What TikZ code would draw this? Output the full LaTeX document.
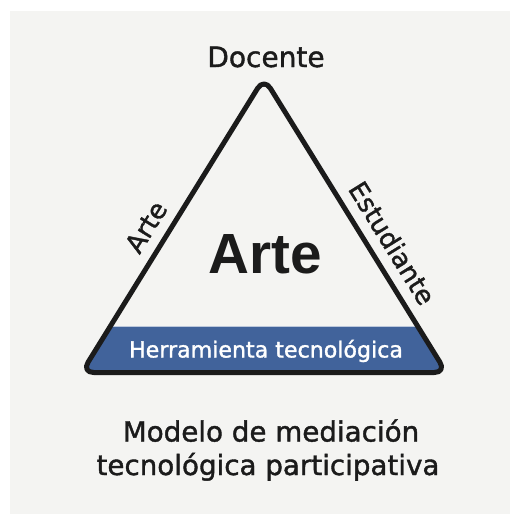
\documentclass[tikz,border=0pt]{standalone}
\usepackage{fontspec}
\setmainfont{DejaVu Sans}
\newfontfamily\medsans{DejaVu Sans}[FakeBold=1.4]
\newfontfamily\arialbold{Liberation Sans}[BoldFont={Liberation Sans Bold}]
\usepackage{tikz}
\definecolor{bggray}{HTML}{F4F4F2}
\definecolor{inkblack}{HTML}{1B1B1B}
\definecolor{bandblue}{HTML}{41639B}

\begin{document}
\begin{tikzpicture}[x=0.75pt, y=-0.75pt, every node/.style={text=inkblack},
		sidelabel/.style={sloped, anchor=south, inner sep=9pt, font=\medsans\fontsize{19.5}{23}\selectfont},
		txt/.style={anchor=base, inner sep=0pt}]
		% Frame
		\useasboundingbox (0,0) rectangle (510,514);
		\fill[white] (0,0) rectangle (510,514);
		\fill[bggray] (10,11) rectangle (510,514);

		% Corners
		\coordinate (top) at (264,78);
		\coordinate (bl) at (81.7,372.5);
		\coordinate (br) at (446.3,372.5);

		% Blue band
		\begin{scope}
			\clip[rounded corners=9pt] (top) -- (br) -- (bl) -- cycle;
			\fill[bandblue] (0,326) rectangle (510,400);
			\draw[bandblue!35!white, line width=0.6pt] (0,326) -- (510,326);
		\end{scope}

		% Outline
		\draw[inkblack, line width=3.75pt, line join=round, rounded corners=9pt] (top) -- (br) -- (bl) -- cycle;

		% Side labels
		\path (bl) -- (top) node[sidelabel, pos=0.455] (arteside) {Arte};
		\path (top) -- (br) node[sidelabel, pos=0.6] (estudiante) {Estudiante};

		% Texts
		\node[txt, font=\medsans\fontsize{21}{25}\selectfont] (docente) at (266,67) {Docente};
		\node[txt, font=\arialbold\bfseries\fontsize{42.5}{48}\selectfont] (arte) at (265,273) {Arte};
		\node[txt, text=white, font=\medsans\fontsize{16.6}{20}\selectfont] (herramienta) at (266,357.5) {Herramienta tecnológica};
		\node[txt, font=\medsans\fontsize{20.8}{25}\selectfont] (titulo) at (271,441.5) {Modelo de mediación};
		\node[txt, font=\medsans\fontsize{20.8}{25}\selectfont] (subtitulo) at (268,475) {tecnológica participativa};
\end{tikzpicture}
\end{document}
